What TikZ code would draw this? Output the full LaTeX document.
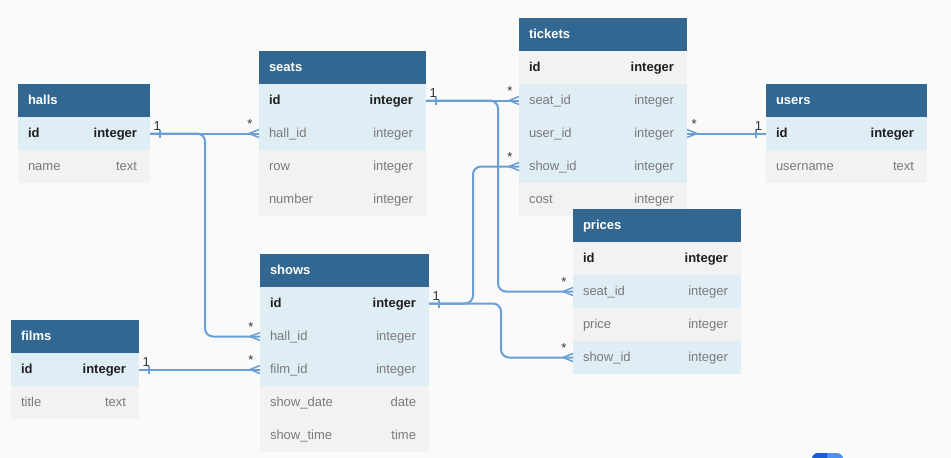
\documentclass[tikz,border=0pt]{standalone}
\usepackage{xcolor}
\usepackage{fontspec}
\setmainfont{Liberation Sans}
\usetikzlibrary{positioning,decorations.markings}

\definecolor{bgcol}{HTML}{FAFAFA}
\definecolor{headblue}{HTML}{326792}
\definecolor{rowblue}{HTML}{DFEDF5}
\definecolor{rowgray}{HTML}{F2F2F2}
\definecolor{fieldgray}{HTML}{7A7A7A}
\definecolor{keyblack}{HTML}{1E1E1E}
\definecolor{linkblue}{HTML}{6A9FD3}
\definecolor{cardcol}{HTML}{333333}
\definecolor{btndark}{HTML}{1A5FD1}
\definecolor{btnlight}{HTML}{4D90F2}

\tikzset{
  cell/.style={text width=#1, inner xsep=10pt, inner ysep=0pt, outer sep=0pt,
    minimum height=33pt, text height=10pt, text depth=3pt, align=left,
    font=\fontsize{13}{15}\selectfont, text=fieldgray},
  head/.style={cell=#1, fill=headblue, text=white,
    font=\bfseries\fontsize{13}{15}\selectfont, anchor=north west},
  typelbl/.style={anchor=east, xshift=-13pt, inner sep=0pt, outer sep=0pt,
    text height=10pt, text depth=3pt, font=\fontsize{13}{15}\selectfont, text=fieldgray},
  fk/.style={label={[typelbl]east:#1}},
  pk/.style={font=\bfseries\fontsize{13}{15}\selectfont, text=keyblack,
    label={[typelbl, font=\bfseries\fontsize{13}{15}\selectfont, text=keyblack]east:#1}},
  rel/.style={draw=linkblue, line width=2pt, rounded corners=8pt},
  mk/.style={draw=linkblue, line width=1.5pt, sharp corners},
  onefrom/.style={postaction={decorate, decoration={markings,
    mark=at position 10pt with {\draw[mk] (0,-4pt) -- (0,4pt);}}}},
  oneto/.style={postaction={decorate, decoration={markings,
    mark=at position -10pt with {\draw[mk] (0,-4pt) -- (0,4pt);}}}},
  manyto/.style={postaction={decorate, decoration={markings,
    mark=at position -10pt with {\draw[mk] (10pt,4pt) -- (0,0) -- (10pt,-4pt);}}}},
  manyfrom/.style={postaction={decorate, decoration={markings,
    mark=at position 10pt with {\draw[mk] (-10pt,4pt) -- (0,0) -- (-10pt,-4pt);}}}},
  card/.style={font=\fontsize{13}{15}\selectfont, text=cardcol, inner sep=0pt},
  startone/.style={card, pos=0, anchor=south west, xshift=2.6pt, yshift=2.5pt},
  endone/.style={card, pos=1, anchor=south east, xshift=-2.9pt, yshift=2.5pt},
  startmany/.style={card, pos=0, anchor=south west, xshift=3.5pt, yshift=3.6pt},
  endmany/.style={card, pos=1, anchor=south east, xshift=-5.5pt, yshift=3.6pt}
}

\begin{document}
\begin{tikzpicture}[x=1pt, y=-1pt]
  \fill[bgcol] (0,0) rectangle (951,458);
  \useasboundingbox (0,0) rectangle (951,458);

  % halls
  \node[head=112pt] (halls) at (18,84) {halls};
  \node[cell=112pt, fill=rowblue, pk=integer, below=0pt of halls] (halls-id) {id};
  \node[cell=112pt, fill=rowgray, fk=text, below=0pt of halls-id] (halls-name) {name};

  % seats
  \node[head=147pt] (seats) at (259,51) {seats};
  \node[cell=147pt, fill=rowblue, pk=integer, below=0pt of seats] (seats-id) {id};
  \node[cell=147pt, fill=rowblue, fk=integer, below=0pt of seats-id] (seats-hallid) {hall\_id};
  \node[cell=147pt, fill=rowgray, fk=integer, below=0pt of seats-hallid] (seats-row) {row};
  \node[cell=147pt, fill=rowgray, fk=integer, below=0pt of seats-row] (seats-number) {number};

  % tickets
  \node[head=148pt] (tickets) at (519,18) {tickets};
  \node[cell=148pt, fill=rowgray, pk=integer, below=0pt of tickets] (tickets-id) {id};
  \node[cell=148pt, fill=rowblue, fk=integer, below=0pt of tickets-id] (tickets-seatid) {seat\_id};
  \node[cell=148pt, fill=rowblue, fk=integer, below=0pt of tickets-seatid] (tickets-userid) {user\_id};
  \node[cell=148pt, fill=rowblue, fk=integer, below=0pt of tickets-userid] (tickets-showid) {show\_id};
  \node[cell=148pt, fill=rowgray, fk=integer, below=0pt of tickets-showid] (tickets-cost) {cost};

  % users
  \node[head=141pt] (users) at (766,84) {users};
  \node[cell=141pt, fill=rowblue, pk=integer, below=0pt of users] (users-id) {id};
  \node[cell=141pt, fill=rowgray, fk=text, below=0pt of users-id] (users-username) {username};

  % prices
  \node[head=148pt] (prices) at (573,209) {prices};
  \node[cell=148pt, fill=rowgray, pk=integer, below=0pt of prices] (prices-id) {id};
  \node[cell=148pt, fill=rowblue, fk=integer, below=0pt of prices-id] (prices-seatid) {seat\_id};
  \node[cell=148pt, fill=rowgray, fk=integer, below=0pt of prices-seatid] (prices-price) {price};
  \node[cell=148pt, fill=rowblue, fk=integer, below=0pt of prices-price] (prices-showid) {show\_id};

  % shows
  \node[head=149pt] (shows) at (260,254) {shows};
  \node[cell=149pt, fill=rowblue, pk=integer, below=0pt of shows] (shows-id) {id};
  \node[cell=149pt, fill=rowblue, fk=integer, below=0pt of shows-id] (shows-hallid) {hall\_id};
  \node[cell=149pt, fill=rowblue, fk=integer, below=0pt of shows-hallid] (shows-filmid) {film\_id};
  \node[cell=149pt, fill=rowgray, fk=date, below=0pt of shows-filmid] (shows-date) {show\_date};
  \node[cell=149pt, fill=rowgray, fk=time, below=0pt of shows-date] (shows-time) {show\_time};

  % films
  \node[head=108pt] (films) at (11,320) {films};
  \node[cell=108pt, fill=rowblue, pk=integer, below=0pt of films] (films-id) {id};
  \node[cell=108pt, fill=rowgray, fk=text, below=0pt of films-id] (films-title) {title};

  % relations
  \draw[rel, onefrom, manyto] (halls-id.east) -- (seats-hallid.west) node[startone] {1} node[endmany] {*};
  \draw[rel, onefrom, manyto] (halls-id.east) -- ++(55,0) |- (shows-hallid.west) node[endmany] {*};
  \draw[rel, onefrom, manyto] (seats-id.east) -- (tickets-seatid.west) node[startone] {1} node[endmany] {*};
  \draw[rel, onefrom, manyto] (seats-id.east) -- ++(72,0) |- (prices-seatid.west) node[endmany] {*};
  \draw[rel, manyfrom, oneto] (tickets-userid.east) -- (users-id.west) node[startmany] {*} node[endone] {1};
  \draw[rel, onefrom, manyto] (shows-id.east) -- ++(44,0) node[startone] {1} |- (tickets-showid.west) node[endmany] {*};
  \draw[rel, onefrom, manyto] (shows-id.east) -- ++(72,0) |- (prices-showid.west) node[endmany] {*};
  \draw[rel, onefrom, manyto] (films-id.east) -- (shows-filmid.west) node[startone] {1} node[endmany] {*};

  % button corner
  \begin{scope}
    \clip (0,0) rectangle (951,458);
    \fill[btnlight, rounded corners=6pt] (812,453) rectangle (843,475);
    \clip (812,450) rectangle (827,460);
    \fill[btndark, rounded corners=6pt] (812,453) rectangle (843,475);
  \end{scope}
\end{tikzpicture}
\end{document}
